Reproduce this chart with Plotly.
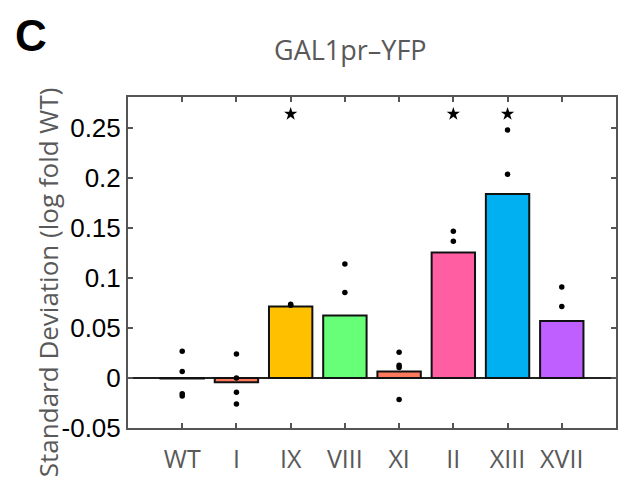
import plotly.graph_objects as go

categories = ["WT", "I", "IX", "VIII", "XI", "II", "XIII", "XVII"]
positions = [1, 2, 3, 4, 5, 6, 7, 8]
bar_means = [-0.0005, -0.0042, 0.0714, 0.0626, 0.0065, 0.1255, 0.184, 0.057]
bar_colors = ["#000000", "#FF7A5C", "#FFC000", "#66FF77", "#FF7A5C", "#FF5FA2", "#00B0F0", "#BF5FFF"]

dots_WT = [0.0267, 0.0065, -0.0157, -0.018]
dots_I = [0.024, 0.0, -0.0143, -0.026]
dots_IX = [0.0738, 0.0728]
dots_VIII = [0.114, 0.0855]
dots_XI = [0.0257, 0.0127, 0.0104, -0.0215]
dots_II = [0.1468, 0.1367]
dots_XIII = [0.248, 0.2038]
dots_XVII = [0.091, 0.0714]
dot_groups = [dots_WT, dots_I, dots_IX, dots_VIII, dots_XI, dots_II, dots_XIII, dots_XVII]

star_positions = [3, 6, 7]
star_level = [0.264, 0.264, 0.264]

ytick_vals = [-0.05, 0, 0.05, 0.1, 0.15, 0.2, 0.25]
ytick_text = ["-0.05", "0", "0.05", "0.1", "0.15", "0.2", "0.25"]

fig = go.Figure()
fig.add_trace(go.Bar(
    x=positions, y=bar_means, width=0.8,
    marker=dict(color=bar_colors, line=dict(color="#111111", width=2)),
    showlegend=False, hoverinfo="skip",
))

dx, dy = [], []
for p, g in zip(positions, dot_groups):
    for v in g:
        dx.append(p)
        dy.append(v)
fig.add_trace(go.Scatter(
    x=dx, y=dy, mode="markers",
    marker=dict(color="black", size=5.5), showlegend=False,
))
fig.add_trace(go.Scatter(
    x=star_positions, y=star_level, mode="markers",
    marker=dict(color="black", size=10, symbol="star"), showlegend=False,
))

gray = "#555555"
fig.update_layout(
    width=631, height=487,
    margin=dict(l=128, r=15, t=97, b=53),
    paper_bgcolor="white", plot_bgcolor="white",
    bargap=0.2,
)
fig.update_xaxes(
    range=[0, 9], tickvals=positions, ticktext=categories,
    showline=True, mirror="ticks", linecolor=gray, linewidth=2,
    ticks="inside", ticklen=5, tickwidth=1.5, tickcolor=gray,
    showgrid=False, zeroline=False,
    tickfont=dict(family="Open Sans", size=25, color="#595959"),
    ticklabelstandoff=8,
)
fig.update_yaxes(
    range=[-0.05, 0.281], tickvals=ytick_vals, ticktext=ytick_text,
    showline=True, mirror="ticks", linecolor=gray, linewidth=2,
    ticks="inside", ticklen=5, tickwidth=1.5, tickcolor=gray,
    showgrid=False, zeroline=True, zerolinecolor="#222222", zerolinewidth=1.5,
    tickfont=dict(family="Liberation Sans, Arial", size=26, color="black"),
)

fig.add_annotation(
    text="Standard Deviation (log fold WT)", textangle=-90,
    xref="paper", yref="paper", x=-0.165, y=0.442,
    xanchor="center", yanchor="middle", showarrow=False,
    font=dict(family="Open Sans", size=26, color="#595959"),
)
fig.add_annotation(
    text="GAL1pr\u2013YFP",
    xref="paper", yref="paper", x=0.455, y=1.142,
    xanchor="center", yanchor="middle", showarrow=False,
    font=dict(family="Open Sans", size=27, color="#595959"),
)
fig.add_annotation(
    text="<b>C</b>",
    xref="paper", yref="paper", x=-0.198, y=1.187,
    xanchor="center", yanchor="middle", showarrow=False,
    font=dict(family="Liberation Sans, Arial", size=44, color="black"),
)

fig.write_html("out.html")
